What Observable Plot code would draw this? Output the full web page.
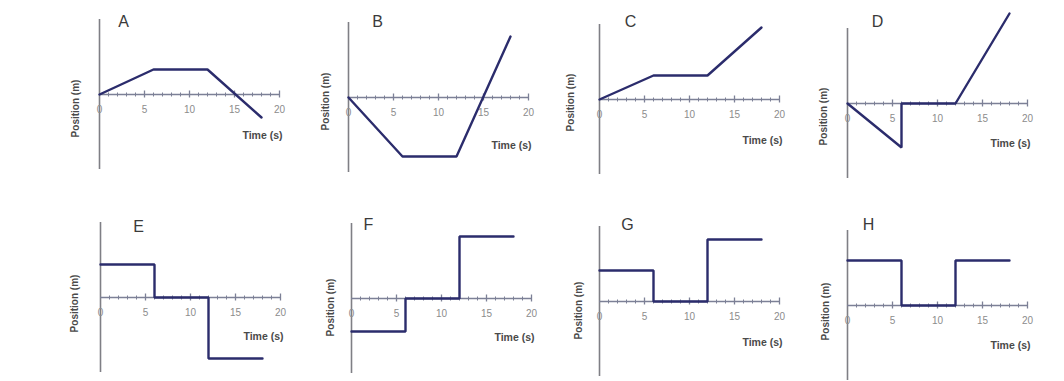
<!DOCTYPE html>
<html><head><meta charset="utf-8">
<script src="https://cdn.jsdelivr.net/npm/d3@7"></script>
<script src="https://cdn.jsdelivr.net/npm/@observablehq/plot@0.6"></script>
<style>
html,body{margin:0;padding:0;background:#fff;}
#root{position:relative;width:1064px;height:381px;overflow:hidden;font-family:"Liberation Sans",Arial,sans-serif;}
#root svg{position:absolute;}
</style></head><body><div id="root"></div>
<script>
// ---- data ----
const panelNames = ["A","B","C","D","E","F","G","H"];
const timeA = [0,6,12,18];          const posA = [0,2.5,2.5,-2.3];
const timeB = [0,6,12,18];          const posB = [0,-5.9,-5.9,6.1];
const timeC = [0,6,12,18];          const posC = [0,2.4,2.4,7.2];
const timeD = [0,6,6,12,18];        const posD = [0,-4.4,0,0,9.0];
const timeE = [0,6,6,12,12,18];     const posE = [3.3,3.3,0,0,-6.1,-6.1];
const timeF = [0,6,6,12,12,18];     const posF = [-3.3,-3.3,0,0,6.2,6.2];
const timeG = [0,6,6,12,12,18];     const posG = [3.1,3.1,0,0,6.2,6.2];
const timeH = [0,6,6,12,12,18];     const posH = [4.5,4.5,0,0,4.5,4.5];
const times = [timeA,timeB,timeC,timeD,timeE,timeF,timeG,timeH];
const positions = [posA,posB,posC,posD,posE,posF,posG,posH];
const tickLabels = [0,5,10,15,20];
const majorTicks = [5,10,15,20];
const minorTicks = [1,2,3,4,6,7,8,9,11,12,13,14,16,17,18,19];
const xLabel = "Time (s)";
const yLabel = "Position (m)";

// ---- layout (page position of each panel's origin, label offsets) ----
const layout = [
  {ox:99,  oy:94,  tdx:24, ty:15,  ldx:-24, ldy:14, xdy:41},
  {ox:348, oy:97,  tdx:29, ty:15,  ldx:-23, ldy:4,  xdy:48},
  {ox:599, oy:99,  tdx:31, ty:15,  ldx:-29, ldy:3,  xdy:41},
  {ox:847, oy:103, tdx:30, ty:15,  ldx:-24, ldy:13, xdy:40},
  {ox:100, oy:297, tdx:38, ty:220, ldx:-26, ldy:6,  xdy:39},
  {ox:351, oy:298, tdx:17, ty:218, ldx:-21, ldy:9,  xdy:39},
  {ox:599, oy:301, tdx:28, ty:218, ldx:-21, ldy:9,  xdy:41},
  {ox:847, oy:305, tdx:21, ty:218, ldx:-22, ldy:6,  xdy:40}
];
const mL = 40, mR = 30, mT = 30, mB = 20, W = 250, H = 200;
const navy = "#2b2c6c", axisGray = "#7f7f85", tickGray = "#7c8096";

const root = document.getElementById("root");
panelNames.forEach((name, i) => {
  const L = layout[i];
  const data = times[i].map((t, j) => ({t, p: positions[i][j]}));
  const frameTop = L.oy - 75;
  const svg = Plot.plot({
    width: W, height: H,
    marginLeft: mL, marginRight: mR, marginTop: mT, marginBottom: mB,
    x: {domain: [0, 20], axis: null},
    y: {domain: [-7.5, 7.5], axis: null},
    style: {background: "transparent", overflow: "visible", fontFamily: "'Liberation Sans', Arial, sans-serif"},
    marks: [
      Plot.ruleX([0], {y1: -7.5, y2: 7.5, stroke: axisGray, strokeWidth: 1.6}),
      Plot.ruleY([0], {x1: 0, x2: 20, stroke: tickGray, strokeWidth: 1.4}),
      Plot.ruleX(minorTicks, {x: d => d, y1: -0.25, y2: 0.15, stroke: tickGray, strokeWidth: 1}),
      Plot.ruleX(majorTicks, {x: d => d, y1: -0.35, y2: 0.35, stroke: tickGray, strokeWidth: 1.3}),
      Plot.text(tickLabels, {x: d => d, y: 0, text: d => String(d), dy: 15, fontSize: 10, fill: "#8c8c8c"}),
      Plot.text([xLabel], {x: 20, y: 0, text: d => d, dy: L.xdy, dx: 3, textAnchor: "end", fontSize: 10.5, fontWeight: "bold", fill: "#4a4a4a"}),
      Plot.text([yLabel], {x: 0, y: 0, text: d => d, dx: L.ldx, dy: L.ldy, rotate: -90, fontSize: 10, fontWeight: "bold", fill: "#4a4a4a"}),
      Plot.text([name], {frameAnchor: "top-left", dx: L.tdx, dy: L.ty - frameTop, text: d => d, fontSize: 16, fill: "#3a3a3a", textAnchor: "middle"}),
      Plot.line(data, {x: "t", y: "p", stroke: navy, strokeWidth: 2.4, strokeLinejoin: "miter"})
    ]
  });
  svg.style.left = (L.ox - mL) + "px";
  svg.style.top = (frameTop - mT) + "px";
  root.appendChild(svg);
});
</script>
</body></html>
